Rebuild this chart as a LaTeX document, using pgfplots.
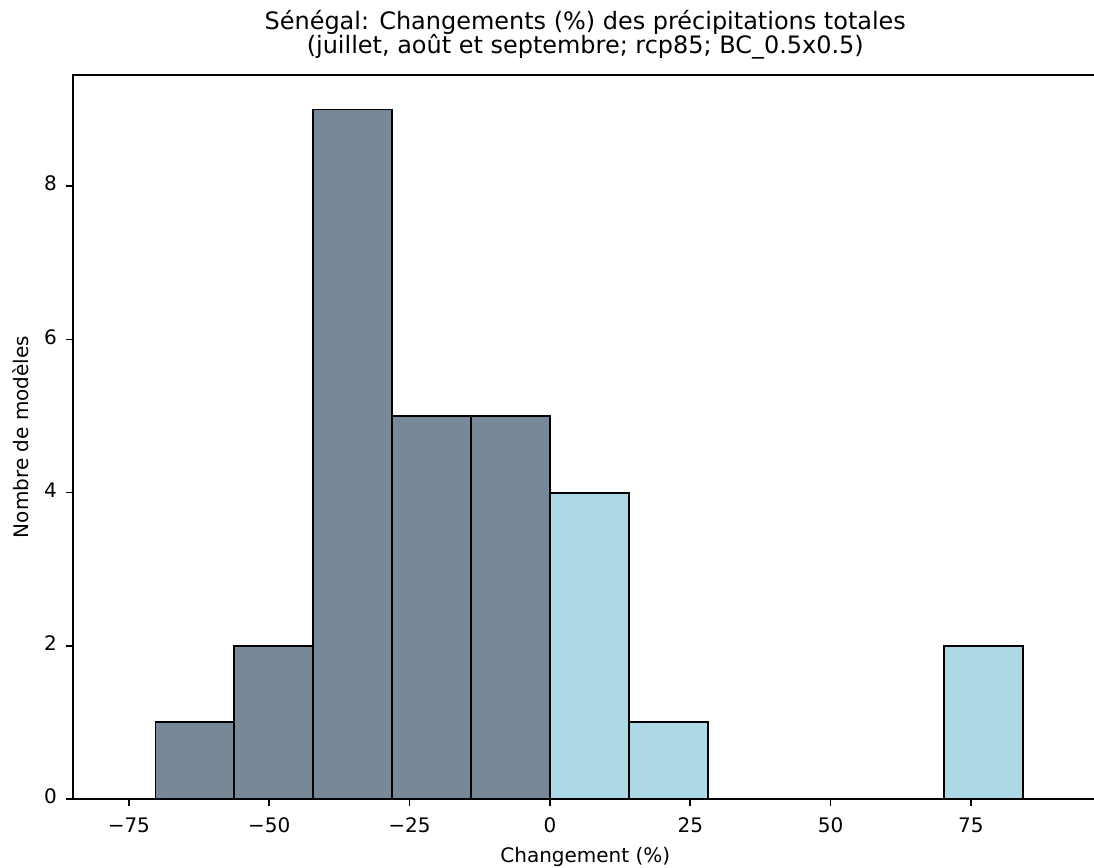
\documentclass[border=0pt]{standalone}
\usepackage{pgfplots}
\pgfplotsset{compat=1.18}
\usepackage{fontspec}
\setmainfont{DejaVu Sans}
\definecolor{slategray}{RGB}{119,136,153}
\definecolor{lightblue}{RGB}{173,216,230}
\begin{document}
\begin{tikzpicture}
\begin{axis}[
  name=ax,
  at={(0,0)}, anchor=south west,
  scale only axis,
  width=491.5pt, height=347.5pt,
  xmin=-84.9, xmax=97.5,
  ymin=0, ymax=9.45,
  xtick={-75,-50,-25,0,25,50,75},
  xticklabels={−75,−50,−25,0,25,50,75},
  ytick={0,2,4,6,8},
  yticklabels={0,2,4,6,8},
  tick align=outside,
  xtick pos=bottom, ytick pos=left,
  major tick length=3.4pt,
  tick style={black, line width=0.77pt},
  axis line style={black, line width=0.77pt},
  every tick label/.append style={font=\fontsize{9.6}{11.5}\selectfont, text=black},
  xticklabel style={anchor=base, inner sep=0pt, yshift=-12.44pt},
  yticklabel style={anchor=east, inner sep=0pt, xshift=-4.28pt},
  typeset ticklabels with strut=false,
  xlabel={Changement (\%)},
  ylabel={Nombre de modèles},
  label style={font=\fontsize{9.6}{11.5}\selectfont, text=black},
  xlabel style={at={(rel axis cs:0.5,0)}, anchor=base, yshift=-30.24pt, inner sep=0pt},
  ylabel style={at={(rel axis cs:0,0.5)}, anchor=base, rotate=0, yshift=21.6pt, inner sep=0pt},
  clip=false,
]
\addplot[ybar interval, fill=slategray, draw=black, line width=0.9pt]
  coordinates {(-70.25,1) (-56.2,2) (-42.15,9) (-28.1,5) (-14.05,5) (0,0)};
\addplot[ybar interval, fill=lightblue, draw=black, line width=0.9pt]
  coordinates {(0,4) (14.05,1) (28.1,0)};
\addplot[ybar interval, fill=lightblue, draw=black, line width=0.9pt]
  coordinates {(70.25,2) (84.3,0)};
\node[anchor=base, font=\fontsize{11.5}{14}\selectfont, text=black, inner sep=0pt]
  at (rel axis cs:0.5,1) [yshift=22.08pt] {Sénégal: Changements (\%) des précipitations totales};
\node[anchor=base, font=\fontsize{11.5}{14}\selectfont, text=black, inner sep=0pt]
  at (rel axis cs:0.5,1) [yshift=10.56pt] {(juillet, août et septembre; rcp85; BC\_0.5x0.5)};
\end{axis}
\pgfresetboundingbox
\path[use as bounding box] (-35.18pt,-32.64pt) rectangle (489.94pt,383.52pt);
\end{tikzpicture}
\end{document}
